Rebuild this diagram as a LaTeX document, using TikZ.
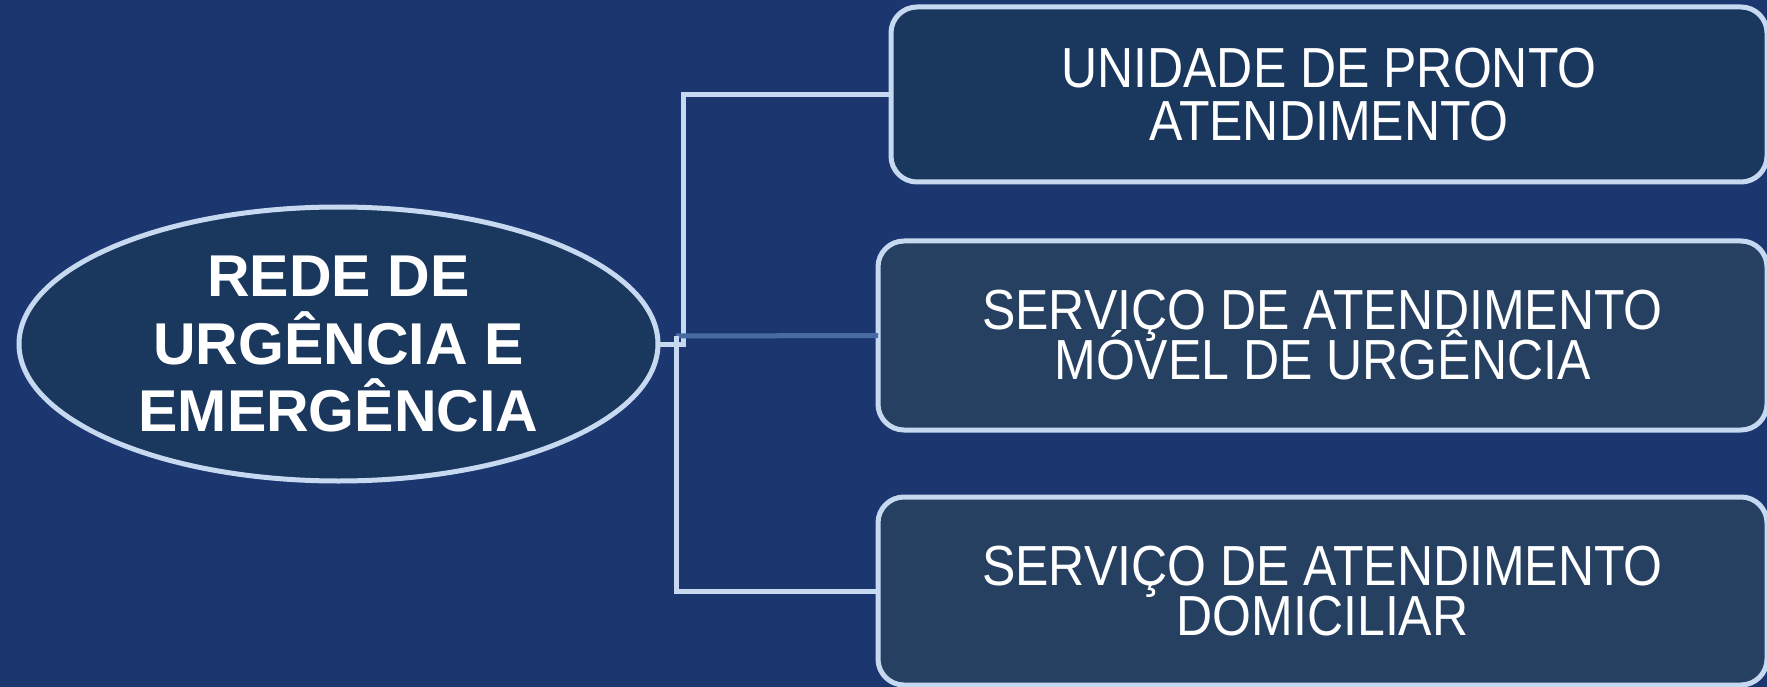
\documentclass[tikz,border=0pt]{standalone}
\usepackage{fontspec}
\setmainfont{Liberation Sans}
\newfontfamily\narrowsans[FakeStretch=0.885]{Liberation Sans}
\usepackage{xcolor}
\usetikzlibrary{positioning,shapes.geometric}

\definecolor{bgblue}{RGB}{28,55,112}
\definecolor{edgeblue}{RGB}{198,217,240}
\definecolor{faintblue}{RGB}{72,107,163}
\definecolor{hubfill}{RGB}{26,55,94}
\definecolor{darkfill}{RGB}{26,55,94}
\definecolor{slatefill}{RGB}{38,64,98}

\begin{document}
\begin{tikzpicture}[
        x=1pt, y=-1pt,
        node distance=67pt,
        link/.style={draw=edgeblue, line width=5pt},
        service/.style={draw=edgeblue, line width=5pt, rounded corners=26pt, inner sep=0pt, outer sep=0pt,
            align=center, text=white, font={\narrowsans\fontsize{56.5}{50}\selectfont\lineskiplimit=-100pt}},
        hub/.style={ellipse, draw=edgeblue, line width=5pt, fill=hubfill, inner sep=0pt, outer sep=0pt,
            minimum width=639pt, minimum height=274pt,
            align=center, text=white, font={\bfseries\fontsize{59}{67.6}\selectfont}}
    ]
        \useasboundingbox (0,0) rectangle (1767,687);
        \fill[bgblue] (0,0) rectangle (1767,687);
        \clip (0,0) rectangle (1767,687);

        \node[hub] (rede) at (338.5,344) {REDE DE\\URGÊNCIA E\\EMERGÊNCIA};

        \node[service, fill=slatefill, minimum width=889pt, minimum height=189pt] (samu) at (1322.5,335.5)
            {SERVIÇO DE ATENDIMENTO\\MÓVEL DE URGÊNCIA};
        \node[service, fill=slatefill, minimum width=889pt, minimum height=188pt, below=of samu] (sad)
            {SERVIÇO DE ATENDIMENTO\\DOMICILIAR};
        \node[service, fill=darkfill, minimum width=876pt, minimum height=175pt,
            font={\narrowsans\fontsize{56.5}{53}\selectfont\lineskiplimit=-100pt},
            above=59pt of samu.north east, anchor=south east] (upa)
            {UNIDADE DE PRONTO\\ATENDIMENTO};

        \coordinate (fork) at (683,344);
        \coordinate (split) at (676,336);

        \draw[link] (rede.east) -- (fork) |- (upa.west);
        \draw[link, draw=faintblue] (split) -- (samu.west);
        \draw[link] (split) |- (sad.west);
    \end{tikzpicture}
\end{document}
